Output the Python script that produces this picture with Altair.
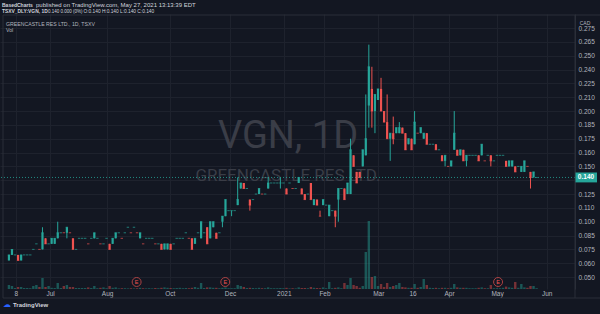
import altair as alt
import pandas as pd

def flat(p, v, d):
    return (p, p, p, p, v, d)

# (open, high, low, close, volume[k], direction)
SEG_JUN_SEP = [
    (0.065, 0.070, 0.065, 0.070, 200, "u"), (0.070, 0.075, 0.070, 0.075, 150, "u"),
    flat(0.070, 50, "u"), (0.070, 0.070, 0.065, 0.065, 100, "d"),
    (0.065, 0.070, 0.065, 0.070, 100, "u"), flat(0.070, 50, "u"),
    flat(0.070, 50, "u"), flat(0.070, 40, "u"),
    flat(0.075, 150, "u"), flat(0.080, 200, "u"), flat(0.075, 100, "d"),
    (0.075, 0.095, 0.075, 0.090, 550, "u"), (0.085, 0.085, 0.080, 0.080, 100, "d"),
    flat(0.080, 150, "u"), (0.080, 0.085, 0.080, 0.085, 60, "u"),
    (0.080, 0.085, 0.080, 0.085, 50, "u"), (0.085, 0.100, 0.085, 0.090, 300, "u"),
    flat(0.090, 50, "u"), flat(0.090, 150, "d"), (0.090, 0.095, 0.085, 0.095, 200, "u"),
    flat(0.090, 100, "d"), (0.085, 0.085, 0.075, 0.075, 100, "d"), flat(0.075, 50, "u"),
    flat(0.085, 50, "u"), flat(0.085, 50, "u"), flat(0.085, 50, "u"), flat(0.080, 80, "d"),
    flat(0.085, 50, "u"), (0.085, 0.090, 0.085, 0.090, 150, "u"), flat(0.085, 40, "u"),
    flat(0.080, 60, "d"), flat(0.080, 80, "u"), flat(0.085, 40, "u"),
    (0.080, 0.080, 0.075, 0.075, 150, "d"), (0.080, 0.085, 0.080, 0.085, 60, "u"),
    (0.085, 0.090, 0.085, 0.090, 80, "u"), flat(0.090, 30, "u"), flat(0.085, 40, "d"),
    flat(0.090, 40, "u"), flat(0.095, 30, "u"), flat(0.090, 40, "d"), flat(0.095, 30, "u"),
    flat(0.090, 40, "d"), (0.085, 0.090, 0.085, 0.090, 60, "u"), flat(0.080, 40, "d"),
    flat(0.085, 30, "u"), flat(0.085, 40, "u"), flat(0.085, 30, "u"), flat(0.080, 50, "d"),
    flat(0.080, 40, "u"), (0.080, 0.080, 0.075, 0.075, 60, "d"),
]

SEG_OCT_JAN = [
    (0.075, 0.080, 0.075, 0.080, 80, "u"),
    (0.075, 0.080, 0.075, 0.080, 60, "u"), (0.080, 0.080, 0.075, 0.075, 50, "d"),
    flat(0.080, 40, "u"), flat(0.085, 50, "u"), flat(0.085, 60, "u"), flat(0.085, 40, "u"),
    flat(0.090, 50, "u"), flat(0.085, 40, "d"), (0.085, 0.085, 0.075, 0.075, 60, "d"),
    (0.080, 0.085, 0.080, 0.085, 100, "u"), flat(0.090, 60, "u"),
    (0.085, 0.100, 0.085, 0.100, 300, "u"), flat(0.090, 50, "u"),
    (0.095, 0.095, 0.080, 0.080, 80, "d"), (0.085, 0.100, 0.085, 0.100, 80, "u"),
    (0.095, 0.100, 0.095, 0.100, 60, "u"), (0.090, 0.090, 0.085, 0.085, 60, "d"),
    flat(0.090, 40, "u"), (0.100, 0.105, 0.095, 0.105, 60, "u"),
    (0.105, 0.120, 0.105, 0.120, 80, "u"), flat(0.110, 40, "u"),
    (0.110, 0.110, 0.105, 0.110, 40, "u"), flat(0.110, 40, "u"),
    (0.115, 0.140, 0.115, 0.120, 200, "u"), (0.130, 0.135, 0.130, 0.135, 150, "u"),
    (0.135, 0.135, 0.130, 0.130, 100, "d"), flat(0.130, 50, "u"),
    (0.120, 0.120, 0.110, 0.115, 60, "d"), flat(0.120, 50, "u"), flat(0.125, 40, "u"),
    (0.125, 0.130, 0.125, 0.130, 60, "u"), flat(0.125, 40, "d"),
    flat(0.125, 40, "u"), (0.130, 0.140, 0.130, 0.135, 80, "u"),
    flat(0.135, 40, "u"), flat(0.135, 40, "u"), flat(0.135, 40, "u"),
    (0.135, 0.140, 0.130, 0.135, 50, "u"), flat(0.135, 40, "u"),
    (0.130, 0.130, 0.125, 0.125, 60, "d"), flat(0.135, 30, "u"), flat(0.130, 40, "d"),
    flat(0.130, 30, "u"), (0.135, 0.140, 0.135, 0.140, 80, "u"),
    (0.130, 0.130, 0.125, 0.125, 50, "d"), (0.125, 0.125, 0.120, 0.120, 50, "d"),
    flat(0.125, 40, "u"), (0.135, 0.135, 0.120, 0.120, 100, "d"),
]

SEG_FEB_MAR = [
    (0.115, 0.120, 0.115, 0.120, 60, "u"), (0.120, 0.120, 0.115, 0.115, 50, "d"),
    (0.105, 0.110, 0.105, 0.105, 40, "d"), (0.115, 0.120, 0.115, 0.120, 80, "u"),
    flat(0.115, 40, "u"), (0.105, 0.115, 0.105, 0.115, 350, "u"), flat(0.110, 40, "u"),
    (0.110, 0.110, 0.095, 0.105, 60, "d"), (0.120, 0.130, 0.100, 0.130, 80, "u"),
    flat(0.130, 40, "u"), (0.130, 0.130, 0.120, 0.120, 300, "d"),
    (0.125, 0.135, 0.125, 0.135, 200, "u"), (0.125, 0.175, 0.125, 0.165, 550, "u"),
    (0.160, 0.160, 0.150, 0.150, 200, "d"), (0.145, 0.145, 0.135, 0.135, 150, "d"),
    (0.145, 0.145, 0.140, 0.140, 60, "d"), (0.150, 0.165, 0.150, 0.165, 150, "u"),
    (0.160, 0.215, 0.160, 0.175, 1850, "u"), (0.205, 0.260, 0.185, 0.240, 3400, "u"),
    (0.220, 0.240, 0.185, 0.200, 600, "d"), (0.200, 0.215, 0.180, 0.215, 650, "u"),
    (0.210, 0.220, 0.210, 0.220, 150, "u"), (0.220, 0.230, 0.200, 0.200, 250, "d"),
    (0.200, 0.200, 0.190, 0.190, 100, "d"), (0.190, 0.215, 0.175, 0.175, 300, "d"),
    (0.175, 0.180, 0.155, 0.180, 100, "u"), (0.180, 0.195, 0.170, 0.175, 150, "d"),
    (0.180, 0.185, 0.180, 0.185, 200, "u"), (0.180, 0.190, 0.180, 0.185, 300, "u"),
    (0.185, 0.185, 0.180, 0.180, 100, "d"), (0.180, 0.180, 0.165, 0.165, 80, "d"),
    (0.170, 0.175, 0.170, 0.175, 60, "u"), (0.175, 0.175, 0.165, 0.165, 60, "d"),
    (0.170, 0.200, 0.170, 0.190, 250, "u"), flat(0.180, 60, "d"),
    (0.180, 0.185, 0.180, 0.185, 100, "u"), (0.175, 0.180, 0.175, 0.180, 500, "u"),
]

SEG_APR_MAY = [
    (0.180, 0.180, 0.170, 0.170, 200, "d"), flat(0.170, 60, "u"), flat(0.170, 50, "u"),
    (0.170, 0.170, 0.165, 0.165, 60, "d"), flat(0.165, 40, "u"),
    (0.160, 0.160, 0.155, 0.155, 60, "d"), (0.155, 0.160, 0.150, 0.160, 60, "u"),
    flat(0.150, 40, "d"), (0.150, 0.155, 0.150, 0.155, 60, "u"),
    (0.165, 0.200, 0.165, 0.180, 250, "u"), (0.165, 0.165, 0.160, 0.160, 80, "d"),
    (0.160, 0.165, 0.160, 0.165, 60, "u"), (0.165, 0.165, 0.155, 0.155, 60, "d"),
    (0.155, 0.160, 0.150, 0.160, 60, "u"), flat(0.160, 40, "u"), flat(0.160, 40, "u"),
    flat(0.160, 40, "u"), (0.160, 0.160, 0.155, 0.155, 60, "d"),
    (0.160, 0.170, 0.160, 0.170, 80, "u"), flat(0.155, 40, "d"), flat(0.160, 40, "u"),
    (0.160, 0.160, 0.150, 0.155, 200, "d"), flat(0.155, 40, "u"), flat(0.160, 40, "u"),
    flat(0.160, 40, "u"), flat(0.160, 60, "u"), (0.155, 0.155, 0.150, 0.150, 120, "d"),
    (0.150, 0.155, 0.150, 0.155, 80, "u"), (0.150, 0.155, 0.150, 0.155, 60, "u"),
    (0.150, 0.150, 0.145, 0.145, 350, "d"), flat(0.150, 60, "u"),
    (0.145, 0.150, 0.145, 0.150, 250, "u"), (0.145, 0.155, 0.145, 0.155, 80, "u"),
    flat(0.150, 60, "d"), (0.145, 0.145, 0.130, 0.140, 150, "d"),
    (0.140, 0.145, 0.140, 0.145, 150, "u"), flat(0.140, 40, "u"),
]

# calendar labels, placed by bar position (fraction of the bar run, 0 = first bar, 1 = last bar)
TIME_POS = [0.013, 0.078, 0.186, 0.305, 0.419, 0.521, 0.598, 0.700, 0.765, 0.834, 0.925, 1.019]
TIME_LABELS = ["8", "Jul", "Aug", "Oct", "Dec", "2021", "Feb", "Mar", "16", "Apr", "May", "Jun"]
EARNINGS_POS = [0.242, 0.410, 0.927]

PRICE_TICKS = [0.05, 0.0625, 0.075, 0.0875, 0.1, 0.1125, 0.125, 0.1375, 0.15, 0.1625,
               0.175, 0.1875, 0.2, 0.2125, 0.225, 0.2375, 0.25, 0.2625, 0.275]
PRICE_LABELS = ["0.050", "0.060", "0.075", "0.085", "0.100", "0.110", "0.125", "", "0.150",
                "0.160", "0.175", "0.185", "0.200", "0.210", "0.225", "0.240", "0.250",
                "0.265", "0.275"]
LAST_PRICE = 0.140

rows = SEG_JUN_SEP + SEG_OCT_JAN + SEG_FEB_MAR + SEG_APR_MAY
df = pd.DataFrame(rows, columns=["o", "h", "l", "c", "v", "d"])
n = len(df)
df["i"] = [k / (n - 1) for k in range(n)]   # bar position as a fraction of the run

BG = "#131722"
UP, DN = "#26a69a", "#ef5350"
W, H = 575, 275
# bars run from ~4px to ~541px of the 575px pane
unit = 537.0
XS = alt.Scale(domain=[-4.0 / unit, (W - 4.0) / unit], nice=False, zero=False)
YS = alt.Scale(domain=[0.0392, 0.2877], nice=False, zero=False)
VS = alt.Scale(domain=[0, 13750], nice=False, zero=False)
COL = alt.Color("d:N", scale=alt.Scale(domain=["u", "d"], range=[UP, DN]), legend=None)

time_expr = "[" + ",".join("'%s'" % s for s in TIME_LABELS) + "][indexof([" + \
    ",".join(str(t) for t in TIME_POS) + "], datum.value)]"
price_expr = "[" + ",".join("'%s'" % s for s in PRICE_LABELS) + "][indexof([" + \
    ",".join(str(t) for t in PRICE_TICKS) + "], datum.value)]"

xaxis = alt.Axis(values=TIME_POS, labelExpr=time_expr, grid=True, gridColor="#1e222d",
                 domain=False, ticks=False, labelColor="#b2b5be", labelFontSize=6.5,
                 labelFont="Liberation Sans", labelPadding=1, title=None, labelFlush=False)
yaxis = alt.Axis(values=PRICE_TICKS, labelExpr=price_expr, orient="right", grid=True,
                 gridColor="#1e222d", domain=True, domainColor="#2a2e39", ticks=False,
                 labelColor="#b2b5be", labelFontSize=6.5, labelFont="Liberation Sans",
                 labelPadding=3, title=None)

X = alt.X("i:Q", scale=XS, axis=xaxis)
base = alt.Chart(df)

def wm(txt, y, size):
    return alt.Chart(pd.DataFrame({"t": [txt]})).mark_text(
        font="Roboto", color="#3a3d47", align="center", baseline="alphabetic", fontSize=size
    ).encode(x=alt.value(288), y=alt.value(y), text="t:N")

wm1 = wm("VGN, 1D", 134, 38)
wm2 = wm("GREENCASTLE RES LTD.", 167, 17)

vol = base.mark_bar(size=2.4, opacity=0.45).encode(
    x=X, y=alt.Y("v:Q", scale=VS, axis=None), color=COL)

price_line = alt.Chart(pd.DataFrame({"p": [LAST_PRICE]})).mark_rule(
    color=UP, strokeDash=[1, 2], strokeWidth=1, opacity=0.8
).encode(y=alt.Y("p:Q", scale=YS, axis=None))

wick = base.mark_rule(strokeWidth=1).encode(
    x=X, y=alt.Y("l:Q", scale=YS, axis=yaxis), y2="h:Q", color=COL)
body = base.mark_bar(size=2.2).encode(
    x=X, y=alt.Y("o:Q", scale=YS, axis=None), y2="c:Q", color=COL)
tick = base.mark_tick(orient="horizontal", size=2.4, thickness=1).encode(
    x=X, y=alt.Y("c:Q", scale=YS, axis=None), color=COL)

marker = alt.Chart(pd.DataFrame({"p": [LAST_PRICE], "t": ["0.140"]}))
marker_box = marker.mark_point(
    shape="M-1,-0.45L1,-0.45L1,0.45L-1,0.45Z", filled=True, color=UP, opacity=1, size=484
).encode(x=alt.value(586), y=alt.Y("p:Q", scale=YS, axis=None))
marker_txt = marker.mark_text(color="white", fontSize=6.5, font="Liberation Sans",
                              fontWeight="bold").encode(
    x=alt.value(586), y=alt.Y("p:Q", scale=YS, axis=None), text="t:N")

earn = alt.Chart(pd.DataFrame({"i": EARNINGS_POS, "t": ["E"] * len(EARNINGS_POS)}))
earn_c = earn.mark_point(shape="circle", size=80, color=DN, strokeWidth=1, filled=False).encode(
    x=X, y=alt.value(268))
earn_t = earn.mark_text(color=DN, fontSize=5.5, font="Liberation Sans").encode(
    x=X, y=alt.value(268), text="t:N")

frame = alt.Chart(pd.DataFrame({"a": [0]}))
top_line = frame.mark_rule(color="#2a2e39").encode(x=alt.value(3), x2=alt.value(600), y=alt.value(1))
bot_line = frame.mark_rule(color="#2a2e39").encode(x=alt.value(3), x2=alt.value(600), y=alt.value(284))
left_line = frame.mark_rule(color="#2a2e39").encode(x=alt.value(3), y=alt.value(1), y2=alt.value(284))
right_line = frame.mark_rule(color="#2a2e39").encode(x=alt.value(575), y=alt.value(1), y2=alt.value(284))

def label(txt, x, y, size, color="#d1d4dc", weight="normal", align="left"):
    return alt.Chart(pd.DataFrame({"t": [txt]})).mark_text(
        align=align, baseline="middle", fontSize=size, font="Liberation Sans",
        fontWeight=weight, color=color
    ).encode(x=alt.value(x), y=alt.value(y), text="t:N")

texts = [
    label("BasedCharts", 2, -9, 5.0, weight="bold"),
    label("published on TradingView.com, May 27, 2021 13:13:39 EDT", 36, -9, 6.0),
    label("TSXV_DLY:VGN, 1D", 2, -2, 4.9, weight="bold"),
    label("0.140 0.000 (0%)", 48, -2, 4.5),
    label("O:0.140 H:0.140 L:0.140 C:0.140", 83.5, -2, 4.8),
    label("GREENCASTLE RES LTD., 1D, TSXV", 6, 10, 5.2, color="#b2b5be"),
    label("Vol", 6, 16, 5.2, color="#b2b5be"),
    label("CAD", 585, 9, 5, color="#b2b5be", align="center"),
    label("TradingView", 13, 291, 6, weight="bold"),
]
logo = label("\u2601", 7, 291, 8, color="#2962ff", align="center")

chart = alt.layer(
    wm1, wm2, vol, price_line, wick, body, tick, marker_box, marker_txt, earn_c, earn_t,
    top_line, bot_line, left_line, right_line, logo, *texts
).resolve_scale(y="independent").properties(
    width=W, height=H,
    background=BG,
    padding={"left": 0, "top": 14, "right": 25, "bottom": 25},
    autosize=alt.AutoSizeParams(type="none"),
).configure_view(stroke=None)

chart.save("out.html", embed_options={"renderer": "svg", "actions": False})
